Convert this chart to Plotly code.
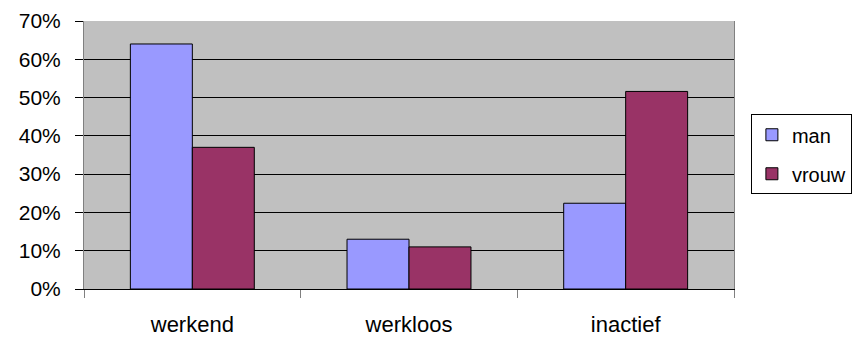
import plotly.graph_objects as go

categories = ["werkend", "werkloos", "inactief"]
man = [0.64, 0.13, 0.224]
vrouw = [0.37, 0.11, 0.516]
series_names = ["man", "vrouw"]

FONT = "Liberation Sans, Arial, sans-serif"

fig = go.Figure()
fig.add_trace(go.Bar(name=series_names[0], x=categories, y=man, legendgroup="a",
                     marker=dict(color="#9999FF", line=dict(color="black", width=1))))
fig.add_trace(go.Bar(name=series_names[1], x=categories, y=vrouw, legendgroup="b",
                     marker=dict(color="#993366", line=dict(color="black", width=1))))

fig.update_layout(
    width=852, height=338,
    margin=dict(l=84, r=118, t=21, b=49, autoexpand=False),
    paper_bgcolor="white", plot_bgcolor="#C0C0C0",
    barmode="group", bargap=0.428, bargroupgap=0,
    font=dict(family=FONT, color="black", size=21),
    showlegend=True,
    legend=dict(x=1.026, y=0.652, xanchor="left", yanchor="top",
                bgcolor="white", bordercolor="black", borderwidth=1,
                tracegroupgap=10,
                font=dict(size=20, family=FONT)),
)
fig.update_yaxes(range=[0, 0.7], dtick=0.1, tickformat=".0%", automargin=False,
                 showgrid=True, gridcolor="black", gridwidth=1,
                 zeroline=False, showline=True, linecolor="#808080", linewidth=1,
                 mirror=True, ticks="outside", ticklen=8, tickcolor="black",
                 ticklabelstandoff=10, tickfont=dict(size=21))
fig.update_xaxes(tickson="boundaries", ticks="outside", ticklen=8, tickcolor="#808080",
                 automargin=False,
                 showline=True, linecolor="black", linewidth=1, showgrid=False,
                 ticklabelstandoff=16, tickfont=dict(size=22))

fig.write_html("out.html", config={"displayModeBar": False},
               post_script="document.body.style.margin='0';document.body.style.overflow='hidden';")
